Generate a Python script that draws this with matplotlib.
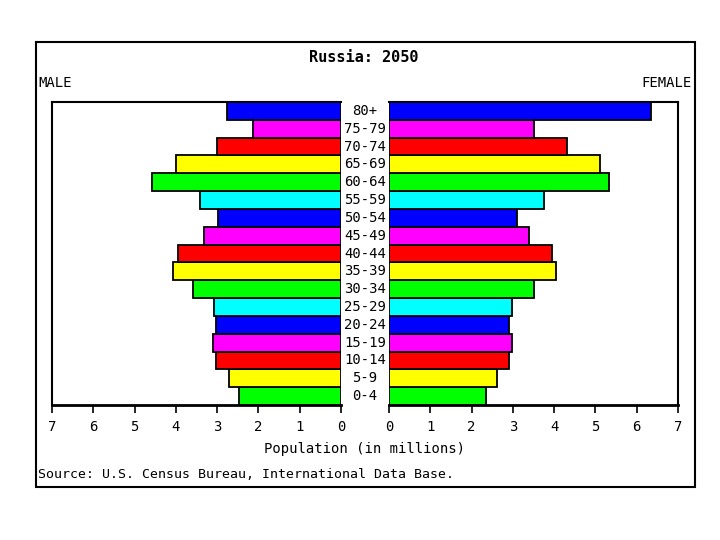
import numpy as np
import matplotlib
matplotlib.use("Agg")
import matplotlib.pyplot as plt
from matplotlib.patches import Rectangle
from matplotlib.transforms import blended_transform_factory

plt.rcParams["font.family"] = ["DejaVu Sans Mono", "DejaVu Sans"]

# ──────────────────────────────
# Data (millions), bottom to top
# ──────────────────────────────
age_groups = ["0-4", "5-9", "10-14", "15-19", "20-24", "25-29", "30-34",
              "35-39", "40-44", "45-49", "50-54", "55-59", "60-64",
              "65-69", "70-74", "75-79", "80+"]
male = [2.47, 2.71, 3.02, 3.10, 3.03, 3.08, 3.58, 4.06, 3.94,
        3.33, 2.98, 3.42, 4.57, 3.99, 3.00, 2.14, 2.76]
female = [2.35, 2.61, 2.90, 2.99, 2.90, 2.99, 3.50, 4.04, 3.95,
          3.38, 3.11, 3.75, 5.32, 5.10, 4.30, 3.50, 6.35]
palette = ["#00ff00", "#ffff00", "#ff0000", "#ff00ff", "#0000ff", "#00ffff"]
x_ticks = [0, 1, 2, 3, 4, 5, 6, 7]

W, H = 720, 540
fig = plt.figure(figsize=(7.2, 5.4), dpi=100)
fig.patch.set_facecolor("white")


def fx(px):
    return px / W


def fy(py):
    return 1 - py / H


# outer frame
fig.patches.append(Rectangle((fx(36), fy(487)), fx(695) - fx(36), fy(42) - fy(487),
                             transform=fig.transFigure, fill=False,
                             edgecolor="black", linewidth=1.5))

ax_top, ax_bot = 102, 405
ax_l = fig.add_axes([fx(52), fy(ax_bot), fx(341) - fx(52), fy(ax_top) - fy(ax_bot)])
ax_r = fig.add_axes([fx(389), fy(ax_bot), fx(678) - fx(389), fy(ax_top) - fy(ax_bot)])

y = np.arange(len(age_groups))
colors = [palette[i % len(palette)] for i in range(len(age_groups))]

ax_l.barh(y, male, height=1.0, color=colors, edgecolor="black", linewidth=1.3)
ax_r.barh(y, female, height=1.0, color=colors, edgecolor="black", linewidth=1.3)

for ax, side in ((ax_l, "right"), (ax_r, "left")):
    ax.set_xlim(0, 7)
    ax.set_ylim(-0.5, len(age_groups) - 0.5)
    ax.set_yticks([])
    ax.set_xticks(x_ticks)
    ax.set_xticklabels([str(t) for t in x_ticks], fontsize=10)
    ax.tick_params(axis="x", direction="out", length=6, width=1.2, pad=5)
    ax.spines[side].set_visible(False)
    ax.spines["bottom"].set_linewidth(2)
    ax.spines["top"].set_linewidth(1.5)
    for s in ("left", "right"):
        ax.spines[s].set_linewidth(1.5)
ax_l.invert_xaxis()

# age labels in the gap
tr = blended_transform_factory(fig.transFigure, ax_l.transData)
for yi, lab in zip(y, age_groups):
    ax_l.text(fx(365), yi, lab, transform=tr, ha="center", va="center",
              fontsize=10, clip_on=False)

fig.text(fx(364), fy(58), "Russia: 2050", ha="center", va="center",
         fontsize=11, fontweight="bold")
fig.text(fx(38), fy(83), "MALE", ha="left", va="center", fontsize=10)
fig.text(fx(692), fy(83), "FEMALE", ha="right", va="center", fontsize=10)
fig.text(fx(364), fy(449), "Population (in millions)", ha="center",
         va="center", fontsize=10)
fig.text(fx(38), fy(474), "Source: U.S. Census Bureau, International Data Base.",
         ha="left", va="center", fontsize=9.5)

fig.savefig("out.png", dpi=100)
